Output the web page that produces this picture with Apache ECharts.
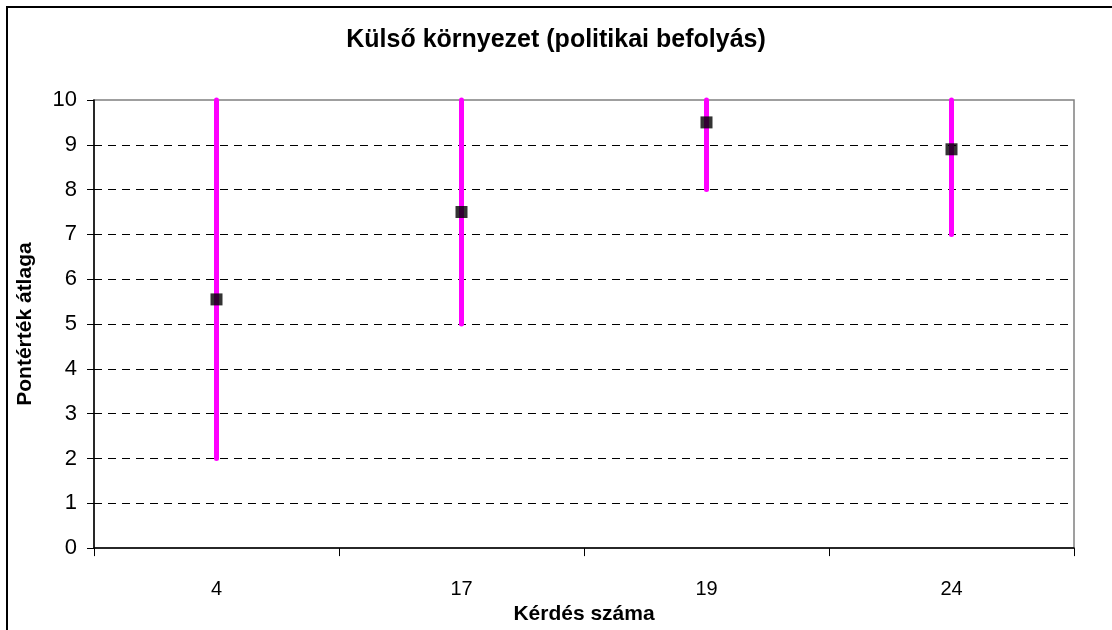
<!DOCTYPE html>
<html>
<head>
<meta charset="utf-8">
<title>Külső környezet</title>
<script src="https://cdn.jsdelivr.net/npm/echarts@6/dist/echarts.min.js"></script>
<style>
    html, body { margin: 0; padding: 0; background: #fff; }
    #chart { width: 1112px; height: 630px; }
</style>
</head>
<body>
<div id="chart"></div>
<script>
// question numbers on the x axis
var questions = ['4', '17', '19', '24'];
// average score (black squares)
var averages = [5.55, 7.5, 9.5, 8.9];
// range of answers (magenta bars)
var lows = [2, 5, 8, 7];
var highs = [10, 10, 10, 10];
var yTicks = [0, 1, 2, 3, 4, 5, 6, 7, 8, 9, 10];

var font = 'Liberation Sans, Arial, sans-serif';
var rangeData = questions.map(function (q, i) { return [i, lows[i], highs[i]]; });

var myChart = echarts.init(document.getElementById('chart'));
var option = {
    animation: false,
    backgroundColor: '#fff',
    title: {
        text: 'Külső környezet (politikai befolyás)',
        left: 'center',
        top: 23,
        textStyle: { fontFamily: font, fontSize: 25, fontWeight: 'bold', color: '#000' }
    },
    graphic: [{
        type: 'rect',
        shape: { x: 7, y: 7, width: 1300, height: 800 },
        style: { fill: 'none', stroke: '#000', lineWidth: 2 },
        z: -10
    }],
    grid: {
        left: 94, top: 100, right: 38, bottom: 79,
        show: true, borderColor: '#808080', borderWidth: 1.5
    },
    xAxis: {
        type: 'category',
        data: questions,
        boundaryGap: true,
        name: 'Kérdés száma',
        nameLocation: 'middle',
        nameGap: 54,
        nameTextStyle: { fontFamily: font, fontSize: 21, fontWeight: 'bold', color: '#000' },
        axisLine: { lineStyle: { color: '#000', width: 1.5 } },
        axisTick: { show: true, length: 8, lineStyle: { color: '#000' } },
        axisLabel: { fontFamily: font, fontSize: 20, color: '#000', margin: 31 },
        splitLine: { show: false }
    },
    yAxis: {
        type: 'value',
        min: 0,
        max: 10,
        interval: 1,
        name: 'Pontérték átlaga',
        nameLocation: 'middle',
        nameGap: 58,
        nameTextStyle: { fontFamily: font, fontSize: 21, fontWeight: 'bold', color: '#000' },
        axisLine: { show: true, lineStyle: { color: '#000', width: 1.5 } },
        axisTick: { show: true, length: 7, lineStyle: { color: '#000' } },
        axisLabel: {
            fontFamily: font, fontSize: 22, color: '#000', margin: 17,
            formatter: function (v) { return yTicks.indexOf(v) >= 0 ? String(v) : ''; }
        },
        splitLine: {
            show: true,
            showMinLine: false,
            showMaxLine: false,
            lineStyle: { color: '#000', type: [8, 6], width: 1 }
        }
    },
    series: [{
        type: 'custom',
        data: rangeData,
        renderItem: function (params, api) {
            var top = api.coord([api.value(0), api.value(2)]);
            var bottom = api.coord([api.value(0), api.value(1)]);
            return {
                type: 'line',
                shape: { x1: top[0], y1: top[1], x2: bottom[0], y2: bottom[1] },
                style: { stroke: '#FF00FF', lineWidth: 5, lineCap: 'round' }
            };
        },
        z: 2
    }, {
        type: 'scatter',
        data: averages,
        symbol: 'rect',
        symbolSize: 12,
        itemStyle: { color: '#000' },
        z: 3
    }]
};
myChart.setOption(option);
</script>
</body>
</html>
